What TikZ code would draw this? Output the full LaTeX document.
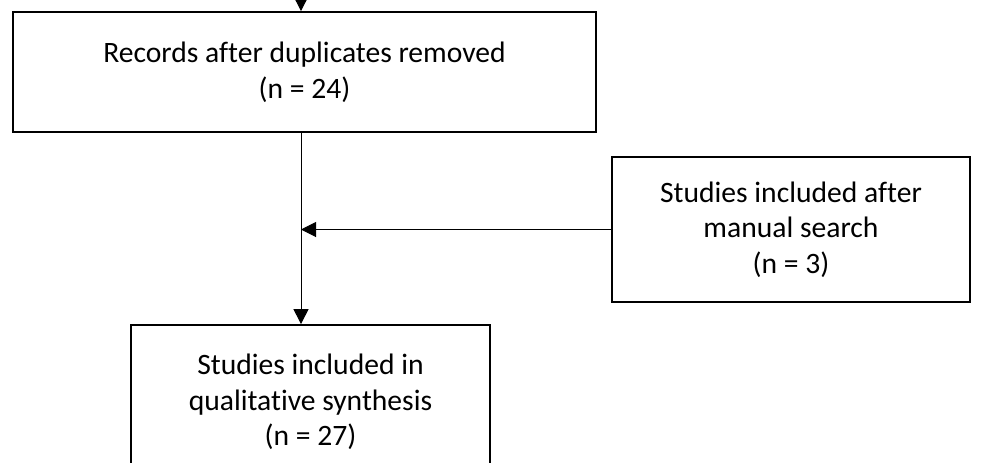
\documentclass[tikz,border=0pt]{standalone}
\usepackage{fontspec}
\setmainfont{Carlito}[Ligatures=NoCommon]
\usetikzlibrary{arrows.meta,positioning}
\tikzset{
  stage/.style={draw,rectangle,line width=0.9pt,align=center,
    font=\fontsize{14.8}{17.8}\selectfont,inner sep=0pt},
  flow/.style={->,>={Triangle[length=7.5pt,width=7.5pt]},line width=0.5pt},
  prisma/.style={x=0.5pt,y=-0.5pt}
}

\begin{document}
\begin{tikzpicture}[prisma]
  \clip (0,0) rectangle (982,462);
  \node[stage,minimum width=291.5pt,minimum height=60pt] (records) at (304.5,72) {Records after duplicates removed\\(n = 24)};
  \node[stage,minimum width=179pt,minimum height=72.5pt] (manual) at (791,229.5) {Studies included after\\manual search\\(n = 3)};
  \node[stage,minimum width=179.5pt,minimum height=77pt] (synthesis) at (310.5,402) {Studies included in\\qualitative synthesis\\(n = 27)};
  \coordinate (feed) at (301,0);
  \draw[flow] (feed) -- (records.north -| feed);
  \draw[flow] (records.south -| feed) -- (synthesis.north -| feed);
  \draw[flow] (manual.west) -- (manual.west -| feed);
\end{tikzpicture}
\end{document}
